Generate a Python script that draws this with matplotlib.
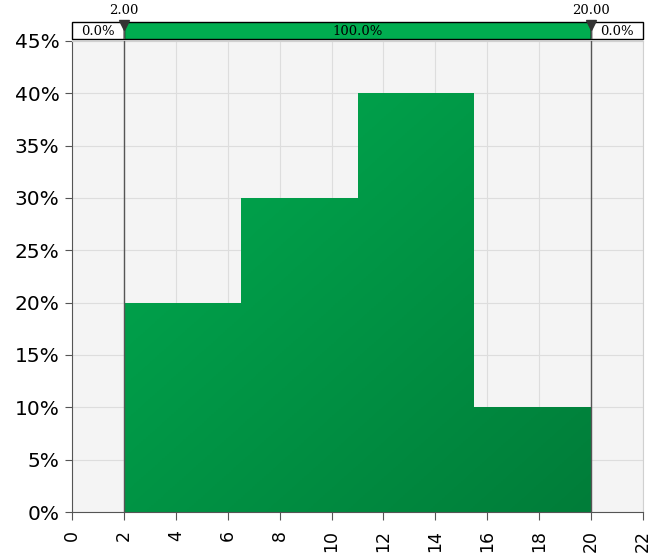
import numpy as np
import matplotlib
matplotlib.use("AGG")
import matplotlib.pyplot as plt
from matplotlib.patches import Polygon, Rectangle
from matplotlib.colors import LinearSegmentedColormap
from matplotlib.ticker import FuncFormatter

# histogram data
bin_edges = [2.0, 6.5, 11.0, 15.5, 20.0]
bin_probs = [0.20, 0.30, 0.40, 0.10]
lo_mark, hi_mark = 2.0, 20.0
band_labels = ["0.0%", "100.0%", "0.0%"]
xticks = list(range(0, 23, 2))
yticks = [i * 0.05 for i in range(10)]

fig = plt.figure(figsize=(6.63, 5.57), dpi=100)
ax = fig.add_axes([72/663, 1-512/557, 571/663, 471/557])
ax.set_facecolor("#f4f4f4")
ax.set_xlim(0, 22)
ax.set_ylim(0, 0.45)
ax.set_xticks(xticks)
ax.set_yticks(yticks)
ax.yaxis.set_major_formatter(FuncFormatter(lambda v, p: "{:.0f}%".format(v*100)))
ax.grid(True, color="#dddddd", linewidth=0.8)
ax.set_axisbelow(True)
for s in ["top", "right"]:
    ax.spines[s].set_color("#d0d0d0")
for s in ["left", "bottom"]:
    ax.spines[s].set_color("#555555")
ax.tick_params(axis="y", labelsize=14.5, length=5, color="#555555", pad=4)
ax.tick_params(axis="x", labelsize=12.5, length=6, color="#555555", labelrotation=90, pad=7)

# step outline of the bars
verts = [(bin_edges[0], 0)]
for i, p in enumerate(bin_probs):
    verts.append((bin_edges[i], p))
    verts.append((bin_edges[i+1], p))
verts.append((bin_edges[-1], 0))
poly = Polygon(verts, closed=True, facecolor="none", edgecolor="none")
ax.add_patch(poly)

# diagonal gradient fill
cmap = LinearSegmentedColormap.from_list("g", ["#00ab50", "#007d39"])
gx, gy = np.meshgrid(np.linspace(0, 1, 200), np.linspace(0, 1, 200))
grad = (gx + gy) / 2
im = ax.imshow(grad, cmap=cmap, extent=[bin_edges[0], bin_edges[-1], 0, max(bin_probs)],
               origin="upper", aspect="auto", zorder=2)
im.set_clip_path(poly)

# marker lines
for xm in [lo_mark, hi_mark]:
    ax.axvline(xm, color="#555555", linewidth=1, zorder=3)

# top probability band
band = fig.add_axes([72/663, 1-39/557, 571/663, 17/557])
band.set_xlim(0, 22)
band.set_ylim(0, 1)
band.set_xticks([])
band.set_yticks([])
band.patch.set_visible(False)
for s in band.spines.values():
    s.set_visible(False)
segs = [(0, lo_mark, "white"), (lo_mark, hi_mark, "#00ad50"), (hi_mark, 22, "white")]
for x0, x1, fc in segs:
    band.add_patch(Rectangle((x0, 0), x1 - x0, 1, facecolor=fc, edgecolor="black",
                             linewidth=1, clip_on=False))
centers = [lo_mark / 2, (lo_mark + hi_mark) / 2, (hi_mark + 22) / 2]
for c, t in zip(centers, band_labels):
    band.text(c, 0.42, t, ha="center", va="center", fontsize=9.5, family="DejaVu Serif")
for xm in [lo_mark, hi_mark]:
    band.plot([xm, xm], [0, 1], color="#555555", linewidth=1)
    band.plot([xm], [0.82], marker="v", color="#333333", markersize=7.5, clip_on=False)
    band.text(xm, 1.3, "{:.2f}".format(xm), ha="center", va="bottom", fontsize=9.5,
              family="DejaVu Serif")

fig.savefig("out.png", dpi=100)
